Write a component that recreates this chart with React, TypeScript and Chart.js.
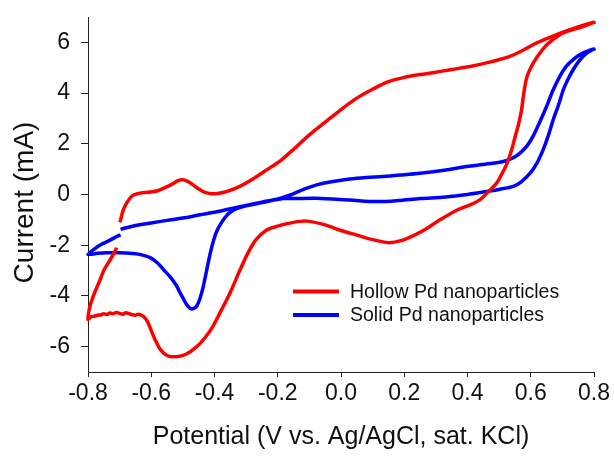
import React, { useEffect, useRef } from "react";
import { Chart, registerables } from "chart.js";

Chart.register(...registerables);

// Hollow Pd nanoparticles (red) — potential (V) and current (mA), in sweep order
const hollowV: number[] = [
  -0.699, -0.688, -0.676, -0.66, -0.644, -0.62, -0.602, -0.58, -0.56, -0.535, -0.515, -0.5, -0.485, -0.47, -0.45,
  -0.43, -0.41, -0.39, -0.36, -0.32, -0.28, -0.235, -0.19, -0.152, -0.1, -0.05, 0.0, 0.05, 0.1, 0.15, 0.2, 0.25,
  0.3, 0.35, 0.408, 0.47, 0.534, 0.58, 0.619, 0.67, 0.724, 0.8,
  0.76, 0.72, 0.692, 0.65, 0.619, 0.6, 0.587, 0.578, 0.571, 0.562, 0.55, 0.538, 0.524, 0.508, 0.492, 0.465, 0.44,
  0.41, 0.366, 0.313, 0.27, 0.229, 0.19, 0.15, 0.1, 0.05, 0.0, -0.05, -0.1, -0.13, -0.17, -0.2, -0.235, -0.27,
  -0.298, -0.32, -0.351, -0.38, -0.405, -0.43, -0.456, -0.49, -0.52, -0.55, -0.572, -0.585, -0.599, -0.612, -0.626,
  -0.64, -0.65, -0.66, -0.67, -0.68, -0.69, -0.7, -0.71, -0.72, -0.73, -0.74, -0.75, -0.76, -0.77, -0.78, -0.79, -0.8,
  -0.794, -0.78, -0.762, -0.749, -0.73, -0.709,
];
const hollowI: number[] = [
  -1.1, -0.6, -0.3, -0.05, 0.03, 0.08, 0.1, 0.15, 0.25, 0.4, 0.55, 0.58, 0.52, 0.4, 0.22,
  0.08, 0.03, 0.04, 0.12, 0.32, 0.6, 0.97, 1.35, 1.76, 2.35, 2.85, 3.35, 3.8, 4.15, 4.45, 4.62, 4.73,
  4.82, 4.93, 5.05, 5.22, 5.45, 5.72, 5.98, 6.25, 6.5, 6.79,
  6.6, 6.45, 6.3, 5.9, 5.4, 5.0, 4.6, 4.0, 3.34, 2.8, 2.25, 1.7, 1.2, 0.8, 0.45, 0.1, -0.2,
  -0.4, -0.62, -1.0, -1.35, -1.62, -1.82, -1.9, -1.78, -1.6, -1.42, -1.2, -1.06, -1.06, -1.15, -1.25, -1.4, -1.8,
  -2.4, -3.0, -3.88, -4.6, -5.2, -5.65, -6.0, -6.3, -6.4, -6.35, -6.1, -5.8, -5.4, -5.0, -4.8,
  -4.72, -4.76, -4.74, -4.7, -4.66, -4.72, -4.69, -4.65, -4.7, -4.67, -4.73, -4.7, -4.75, -4.76, -4.8, -4.82, -4.92,
  -4.42, -3.9, -3.37, -2.97, -2.58, -2.1,
];

// Solid Pd nanoparticles (blue)
const solidV: number[] = [
  -0.697, -0.65, -0.6, -0.55, -0.5, -0.446, -0.4, -0.341, -0.3, -0.25, -0.2, -0.16, -0.13, -0.1, -0.077, -0.03,
  0.028, 0.08, 0.133, 0.19, 0.25, 0.32, 0.398, 0.46, 0.513, 0.545, 0.566, 0.59, 0.607, 0.63, 0.65, 0.67, 0.692,
  0.712, 0.734, 0.76, 0.8,
  0.777, 0.756, 0.734, 0.714, 0.703, 0.687, 0.671, 0.655, 0.639, 0.62, 0.598, 0.57, 0.545, 0.5, 0.461, 0.4, 0.33,
  0.25, 0.18, 0.113, 0.028, -0.077, -0.15, -0.183, -0.25, -0.3, -0.33, -0.35, -0.361, -0.375, -0.393, -0.405,
  -0.414, -0.425, -0.435, -0.446, -0.456, -0.467, -0.477, -0.49, -0.499, -0.51, -0.52, -0.54, -0.562, -0.58,
  -0.602, -0.63, -0.66, -0.7, -0.74, -0.77, -0.8,
  -0.78, -0.76, -0.73, -0.71, -0.697,
];
const solidI: number[] = [
  -1.37, -1.22, -1.12, -1.02, -0.93, -0.8, -0.7, -0.54, -0.43, -0.3, -0.18, -0.02, 0.14, 0.28, 0.38, 0.5,
  0.61, 0.67, 0.71, 0.77, 0.84, 0.95, 1.1, 1.2, 1.3, 1.45, 1.63, 1.95, 2.29, 2.9, 3.47, 4.1, 4.66,
  5.05, 5.32, 5.55, 5.74,
  5.58, 5.32, 4.92, 4.45, 4.13, 3.5, 2.95, 2.3, 1.76, 1.25, 0.84, 0.5, 0.32, 0.2, 0.12, 0.0, -0.1,
  -0.16, -0.24, -0.28, -0.22, -0.15, -0.16, -0.16, -0.32, -0.45, -0.56, -0.7, -0.82, -1.05, -1.45, -1.9,
  -2.35, -3.0, -3.6, -4.1, -4.4, -4.5, -4.49, -4.3, -4.1, -3.85, -3.6, -3.25, -2.95, -2.7,
  -2.5, -2.38, -2.33, -2.3, -2.3, -2.32, -2.36,
  -2.15, -1.98, -1.8, -1.66, -1.59,
];

const seriesLabels: string[] = ["Hollow Pd nanoparticles", "Solid Pd nanoparticles"];
const xTicks: number[] = [-0.8, -0.6, -0.4, -0.2, 0.0, 0.2, 0.4, 0.6, 0.8];
const yTicks: number[] = [-6, -4, -2, 0, 2, 4, 6];
const xTitle = "Potential (V vs. Ag/AgCl, sat. KCl)";
const yTitle = "Current (mA)";

const FONT = "'Liberation Sans', Arial, sans-serif";
const RED = "#ff0000";
const BLUE = "#0000ff";

const toPoints = (xs: number[], ys: number[]) => xs.map((x, i) => ({ x, y: ys[i] }));

const legendPlugin = {
  id: "cvLegend",
  afterDatasetsDraw(chart: any) {
    const { ctx } = chart;
    ctx.save();
    chart.data.datasets.forEach((ds: any, i: number) => {
      const y = 291.5 + i * 23.5;
      ctx.strokeStyle = ds.borderColor;
      ctx.lineWidth = 4;
      ctx.lineCap = "butt";
      ctx.beginPath();
      ctx.moveTo(293, y);
      ctx.lineTo(339, y);
      ctx.stroke();
      ctx.fillStyle = "#111";
      ctx.font = `19.5px ${FONT}`;
      ctx.textAlign = "left";
      ctx.textBaseline = "middle";
      ctx.fillText(ds.label, 350, y + 1);
    });
    ctx.restore();
  },
};

const yTitlePlugin = {
  id: "yTitle",
  afterDraw(chart: any) {
    const { ctx } = chart;
    ctx.save();
    ctx.translate(25, 202.5);
    ctx.rotate(-Math.PI / 2);
    ctx.fillStyle = "#111";
    ctx.font = `28px ${FONT}`;
    ctx.textAlign = "center";
    ctx.textBaseline = "middle";
    ctx.fillText(yTitle, 0, 0);
    ctx.restore();
  },
};

export default function App() {
  const ref = useRef<HTMLCanvasElement | null>(null);
  useEffect(() => {
    if (!ref.current) return;
    const chart = new Chart(ref.current, {
      type: "scatter",
      data: {
        datasets: [
          {
            label: seriesLabels[0],
            data: toPoints(hollowV, hollowI),
            showLine: true,
            borderColor: RED,
            backgroundColor: RED,
            borderWidth: 3.5,
            pointRadius: 0,
            tension: 0.3,
            clip: false as any,
          },
          {
            label: seriesLabels[1],
            data: toPoints(solidV, solidI),
            showLine: true,
            borderColor: BLUE,
            backgroundColor: BLUE,
            borderWidth: 3.5,
            pointRadius: 0,
            tension: 0.3,
            clip: false as any,
          },
        ],
      },
      options: {
        animation: false,
        responsive: false,
        layout: { padding: { left: 0, right: 20, top: 17, bottom: 0 } },
        plugins: { legend: { display: false }, tooltip: { enabled: false } },
        scales: {
          x: {
            type: "linear",
            min: -0.8,
            max: 0.8,
            afterFit: (s: any) => {
              s.height = 86;
              s.paddingLeft = 0;
              s.paddingRight = 0;
            },
            afterBuildTicks: (s: any) => {
              s.ticks = xTicks.map((v) => ({ value: v }));
            },
            grid: { drawOnChartArea: false, drawTicks: true, tickLength: 5, tickColor: "#222", tickWidth: 1 },
            border: { display: true, color: "#222", width: 1 },
            ticks: {
              color: "#111",
              font: { family: FONT, size: 23 },
              padding: 3,
              maxRotation: 0,
              callback: (v: any) => Number(v).toFixed(1),
            },
            title: {
              display: true,
              text: xTitle,
              color: "#111",
              font: { family: FONT, size: 25 },
              padding: { top: 0, bottom: 6 },
            },
          },
          y: {
            type: "linear",
            min: -7,
            max: 7,
            afterFit: (s: any) => {
              s.width = 88;
              s.paddingTop = 0;
              s.paddingBottom = 0;
            },
            afterBuildTicks: (s: any) => {
              s.ticks = yTicks.map((v) => ({ value: v }));
            },
            grid: { drawOnChartArea: false, drawTicks: true, tickLength: 7, tickColor: "#222", tickWidth: 1 },
            border: { display: true, color: "#222", width: 1 },
            ticks: {
              color: "#111",
              font: { family: FONT, size: 23 },
              padding: 11,
              callback: (v: any) => String(v),
            },
            title: { display: false, text: yTitle },
          },
        },
      },
      plugins: [legendPlugin, yTitlePlugin],
    });
    return () => chart.destroy();
  }, []);

  return (
    <div style={{ position: "absolute", left: 0, top: 0, width: 614, height: 458, background: "#fff" }}>
      <canvas ref={ref} width={614} height={458} />
    </div>
  );
}
